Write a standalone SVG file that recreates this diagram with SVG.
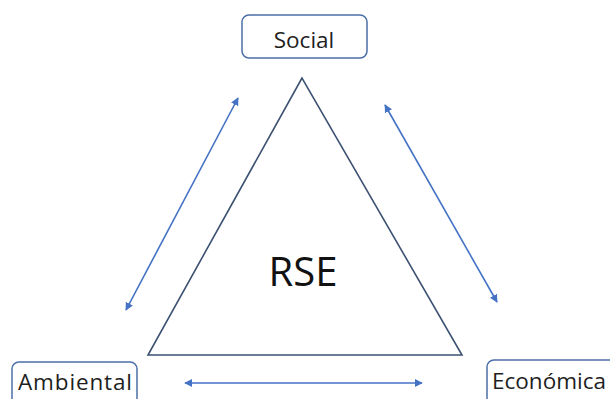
<svg xmlns="http://www.w3.org/2000/svg" width="610" height="399" viewBox="0 0 610 399">
  <style>
    .box { fill: #ffffff; stroke: #4a6fa8; stroke-width: 1.5; }
    .label { font-family: "Open Sans", "Liberation Sans", sans-serif; font-size: 22.5px; fill: #1e1e1e; }
    .link { stroke: #4472c4; stroke-width: 1.6; fill: none; marker-start: url(#head); marker-end: url(#head); }
    .tri { fill: none; stroke: #3d5272; stroke-width: 1.6; }
  </style>
  <defs>
    <marker id="head" viewBox="0 0 10 10" refX="9" refY="5" markerWidth="5" markerHeight="5" orient="auto-start-reverse" markerUnits="strokeWidth">
      <path d="M0,0 L10,5 L0,10 z" fill="#4472c4"/>
    </marker>
  </defs>

  <g id="rse">
    <polygon class="tri" points="302,78 148,355 462,355"/>
    <text x="303" y="286" text-anchor="middle" font-family="'Open Sans', 'Liberation Sans', sans-serif" font-size="40" fill="#111">RSE</text>
  </g>

  <g id="social">
    <rect class="box" x="242" y="15" width="125" height="43" rx="7"/>
    <text class="label" x="304" y="48" text-anchor="middle">Social</text>
  </g>

  <g id="ambiental">
    <rect class="box" x="12" y="362" width="125" height="50" rx="7"/>
    <text class="label" x="75" y="390" text-anchor="middle" textLength="114">Ambiental</text>
  </g>

  <g id="economica">
    <rect class="box" x="487" y="360" width="135" height="50" rx="7"/>
    <text class="label" x="549" y="389" text-anchor="middle" textLength="114">Económica</text>
  </g>

  <g id="connectors">
    <line class="link" x1="126" y1="310" x2="238" y2="98"/>
    <line class="link" x1="385" y1="105" x2="497" y2="302"/>
    <line class="link" x1="185" y1="383" x2="422" y2="383"/>
  </g>
</svg>
